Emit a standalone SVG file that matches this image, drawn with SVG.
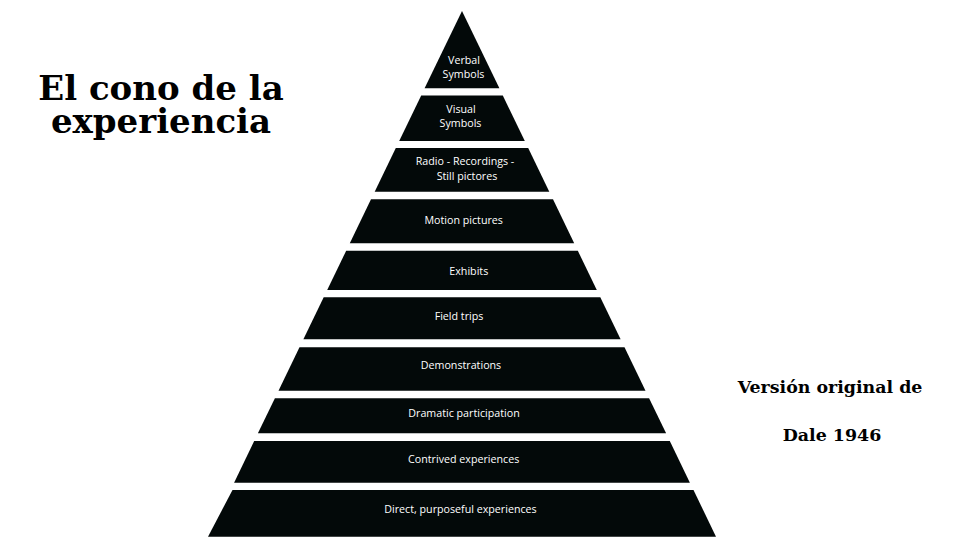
<svg xmlns="http://www.w3.org/2000/svg" width="960" height="560" viewBox="0 0 960 560">
<style>
.layer{fill:#030909}
.lbl{font-family:"Open Sans","Noto Sans",sans-serif;font-size:10.7px;fill:#ffffff;text-anchor:middle}
.title{font-family:"DejaVu Serif",serif;font-weight:bold;font-size:34px;fill:#000000;text-anchor:middle}
.sub{font-family:"DejaVu Serif",serif;font-weight:bold;font-size:17.4px;fill:#000000;text-anchor:middle}
</style>
<rect width="960" height="560" fill="#ffffff"/>
<g id="title">
<text class="title" x="161" y="99.5">El cono de la</text>
<text class="title" x="161" y="133">experiencia</text>
</g>
<g id="caption">
<text class="sub" x="830" y="393">Versión original de</text>
<text class="sub" x="832" y="441">Dale 1946</text>
</g>
<g id="layer-verbal">
<polygon class="layer" points="462,11 499.4,88.3 424.6,88.3"/>
<text class="lbl" x="464" y="64.3">Verbal</text>
<text class="lbl" x="463.5" y="78">Symbols</text>
</g>
<g id="layer-visual">
<polygon class="layer" points="421.2,95.5 502.8,95.5 524.8,141 399.2,141"/>
<text class="lbl" x="461" y="113">Visual</text>
<text class="lbl" x="460.5" y="127">Symbols</text>
</g>
<g id="layer-radio">
<polygon class="layer" points="395.8,148 528.2,148 549.3,191.7 374.7,191.7"/>
<text class="lbl" x="465" y="165">Radio - Recordings -</text>
<text class="lbl" x="467" y="179.5">Still pictores</text>
</g>
<g id="layer-motion">
<polygon class="layer" points="371,199.3 553,199.3 574.2,243.3 349.8,243.3"/>
<text class="lbl" x="463.7" y="224">Motion pictures</text>
</g>
<g id="layer-exhibits">
<polygon class="layer" points="346.2,250.7 577.8,250.7 596.8,290 327.2,290"/>
<text class="lbl" x="468.8" y="275">Exhibits</text>
</g>
<g id="layer-field">
<polygon class="layer" points="323.7,297.3 600.3,297.3 620.6,339.3 303.4,339.3"/>
<text class="lbl" x="459" y="320">Field trips</text>
</g>
<g id="layer-demonstrations">
<polygon class="layer" points="299.5,347.3 624.5,347.3 645.5,390.7 278.5,390.7"/>
<text class="lbl" x="461" y="369">Demonstrations</text>
</g>
<g id="layer-dramatic">
<polygon class="layer" points="274.9,398.3 649.1,398.3 666.1,433.3 257.9,433.3"/>
<text class="lbl" x="464" y="416.5">Dramatic participation</text>
</g>
<g id="layer-contrived">
<polygon class="layer" points="254.2,441 669.8,441 689.9,482.7 234.1,482.7"/>
<text class="lbl" x="463.7" y="462.5">Contrived experiences</text>
</g>
<g id="layer-direct">
<polygon class="layer" points="232.5,490 693.5,490 716,536.7 208,536.7"/>
<text class="lbl" x="460.5" y="513.3">Direct, purposeful experiences</text>
</g>
<g id="connectors"/>
</svg>
